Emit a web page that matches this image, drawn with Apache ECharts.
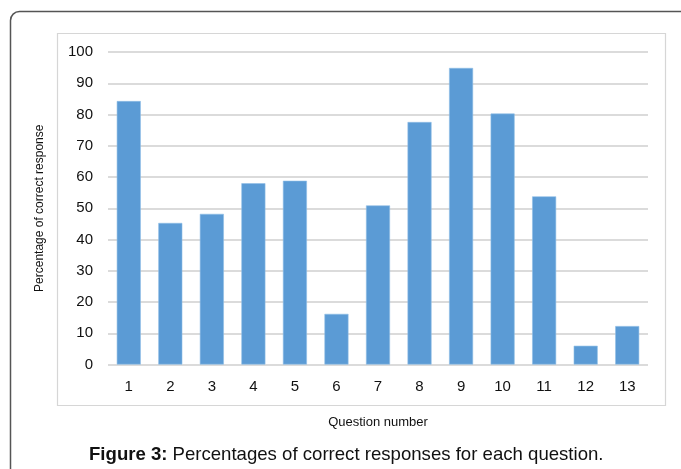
<!DOCTYPE html>
<html>
<head>
<meta charset="utf-8">
<script src="https://cdn.jsdelivr.net/npm/echarts@6/dist/echarts.min.js"></script>
<style>
  html, body { margin: 0; padding: 0; background: #fff; }
  #chart { width: 681px; height: 469px; }
</style>
</head>
<body>
<div id="chart"></div>
<script>
// Question numbers and the share of correct responses (%)
const questions = ['1', '2', '3', '4', '5', '6', '7', '8', '9', '10', '11', '12', '13'];
const correctPct = [84.3, 45.3, 48.2, 58.0, 58.8, 16.2, 50.9, 77.6, 94.9, 80.3, 53.8, 6.0, 12.3];
const yTicks = { min: 0, max: 100, interval: 10 };

const FONT = '"Liberation Sans", Arial, sans-serif';
const chart = echarts.init(document.getElementById('chart'), null, { renderer: 'canvas' });

chart.setOption({
  animation: false,
  backgroundColor: '#ffffff',
  grid: { left: 108, right: 33, top: 52, bottom: 104.5, containLabel: false },
  title: {
    text: '{b|Figure 3:} {n|Percentages of correct responses for each question.}',
    left: 89,
    top: 445,
    padding: 0,
    textStyle: {
      rich: {
        b: { fontFamily: FONT, fontSize: 18.6, fontWeight: 'bold', color: '#111' },
        n: { fontFamily: FONT, fontSize: 18.6, fontWeight: 'normal', color: '#111' }
      }
    }
  },
  xAxis: {
    type: 'category',
    data: questions,
    name: 'Question number',
    nameLocation: 'middle',
    nameGap: 51,
    nameTextStyle: { fontFamily: FONT, fontSize: 13, color: '#111' },
    axisLine: { show: false },
    axisTick: { show: false },
    axisLabel: { fontFamily: FONT, fontSize: 15, color: '#111', margin: 15 }
  },
  yAxis: {
    type: 'value',
    min: yTicks.min,
    max: yTicks.max,
    interval: yTicks.interval,
    name: 'Percentage of correct response',
    nameLocation: 'middle',
    nameGap: 62,
    nameTextStyle: { fontFamily: FONT, fontSize: 12, color: '#111' },
    axisLine: { show: false },
    axisTick: { show: false },
    axisLabel: { fontFamily: FONT, fontSize: 15, color: '#111', margin: 15 },
    splitLine: { lineStyle: { color: '#cfcfcf', width: 1.5 } }
  },
  series: [{
    type: 'bar',
    data: correctPct,
    barWidth: 24,
    itemStyle: { color: '#5b9bd5', borderColor: '#8fbde6', borderWidth: 0.6 }
  }],
  graphic: [
    {
      type: 'rect',
      shape: { x: 10.5, y: 11.5, width: 690, height: 480, r: 9 },
      style: { fill: 'none', stroke: '#555', lineWidth: 1.5 },
      z: -1
    },
    {
      type: 'rect',
      shape: { x: 57.5, y: 33.5, width: 608, height: 372 },
      style: { fill: 'none', stroke: '#d6d6d6', lineWidth: 1.2 },
      z: -1
    }
  ]
});
</script>
</body>
</html>
